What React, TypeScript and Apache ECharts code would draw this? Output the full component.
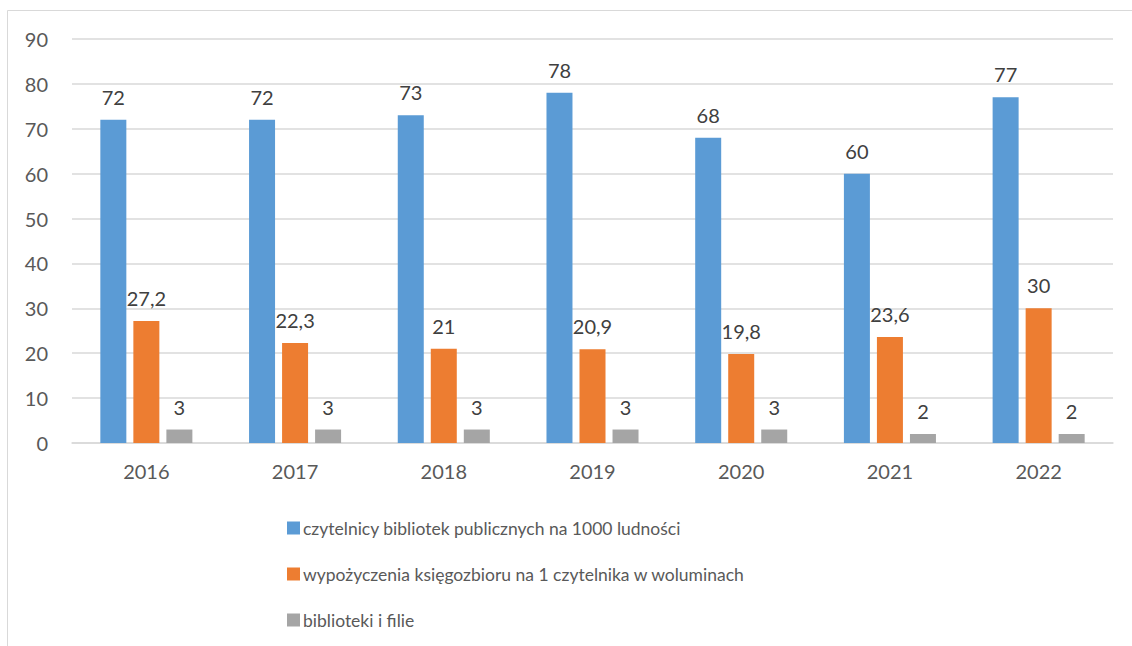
import React, { useEffect, useRef } from "react";
import * as echarts from "echarts";

const years = ["2016", "2017", "2018", "2019", "2020", "2021", "2022"];
const readers = [72, 72, 73, 78, 68, 60, 77];
const loans = [27.2, 22.3, 21, 20.9, 19.8, 23.6, 30];
const libraries = [3, 3, 3, 3, 3, 2, 2];
const seriesNames = [
  "czytelnicy bibliotek publicznych na 1000 ludności",
  "wypożyczenia księgozbioru na 1 czytelnika w woluminach",
  "biblioteki i filie",
];
const colors = ["#5B9BD5", "#ED7D31", "#A5A5A5"];

const FONT = "Lato, 'Open Sans', sans-serif";

export default function App() {
  const ref = useRef<HTMLDivElement>(null);
  useEffect(() => {
    if (!ref.current) return;
    const chart = echarts.init(ref.current, null, { renderer: "svg" });
    const label = {
      show: true,
      position: "top" as const,
      distance: 13,
      color: "#404040",
      fontSize: 20,
      fontFamily: FONT,
      formatter: (p: any) => String(p.value).replace(".", ","),
    };
    const datasets = [readers, loans, libraries];
    chart.setOption({
      animation: false,
      textStyle: { fontFamily: FONT },
      graphic: [
        {
          type: "rect",
          shape: { x: 7.5, y: 10.5, width: 1140, height: 660 },
          style: { fill: "none", stroke: "#d9d9d9", lineWidth: 1 },
          silent: true,
        },
      ],
      grid: { left: 72, right: 19, top: 39, bottom: 203, containLabel: false },
      xAxis: {
        type: "category",
        data: years,
        axisLine: { show: true, lineStyle: { color: "#d9d9d9", width: 1.5 } },
        axisTick: { show: false },
        axisLabel: { color: "#595959", fontSize: 20, fontFamily: FONT, margin: 18 },
      },
      yAxis: {
        type: "value",
        min: 0,
        max: 90,
        interval: 10,
        axisLine: { show: false },
        axisTick: { show: false },
        splitLine: { lineStyle: { color: "#d9d9d9", width: 1.5 } },
        axisLabel: { color: "#595959", fontSize: 20, fontFamily: FONT, margin: 24 },
      },
      legend: {
        orient: "vertical",
        left: 282,
        top: 514,
        itemWidth: 13,
        itemHeight: 13,
        itemGap: 28,
        icon: "rect",
        textStyle: { color: "#595959", fontSize: 17.5, fontFamily: FONT, padding: [0, 0, 0, -2] },
        data: seriesNames,
      },
      series: seriesNames.map((name, i) => ({
        name,
        type: "bar",
        data: datasets[i],
        barWidth: 26,
        barGap: "27%",
        itemStyle: { color: colors[i] },
        label,
      })),
    });
    return () => chart.dispose();
  }, []);
  return (
    <div
      ref={ref}
      style={{ position: "absolute", left: 0, top: 0, width: 1132, height: 646, background: "#fff" }}
    />
  );
}
